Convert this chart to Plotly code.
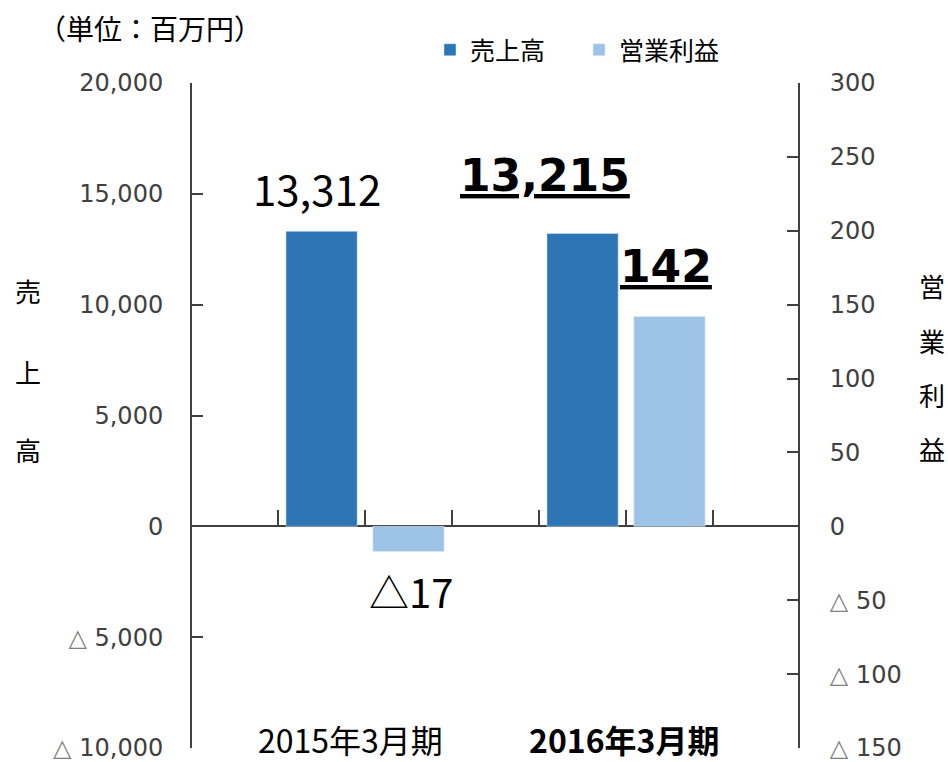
import plotly.graph_objects as go

# ---- data ----
categories = ["2015年3月期", "2016年3月期"]
sales = [13312, 13215]            # 売上高 (百万円)
op_profit = [-17, 142]            # 営業利益 (百万円)
sales_labels = ["13,312", "<b><u>13,215</u></b>"]
profit_labels = ["△17", "<b><u>142</u></b>"]

left_tickvals = [-10000, -5000, 0, 5000, 10000, 15000, 20000]
left_ticktext = ["<span style='color:#7f7f7f'>△</span> 10,000",
                 "<span style='color:#7f7f7f'>△</span> 5,000",
                 "0", "5,000", "10,000", "15,000", "20,000"]
right_tickvals = [-150, -100, -50, 0, 50, 100, 150, 200, 250, 300]
right_ticktext = ["<span style='color:#7f7f7f'>△</span> 150",
                  "<span style='color:#7f7f7f'>△</span> 100",
                  "<span style='color:#7f7f7f'>△</span> 50",
                  "0", "50", "100", "150", "200", "250", "300"]

unit_text = "（単位：百万円）"
left_title = "売上高"
right_title = "営業利益"

# ---- style ----
W, H = 948, 762
BLUE = "#2E75B6"
LIGHT = "#9DC3E6"
AX = "#404040"
CJK = "Noto Sans CJK JP"
NUM = "DejaVu Sans"

def px(x):
    return x / W

def py(y):
    return 1 - y / H

x_range = [-0.663, 1.659]
bar_w = 0.273
cat_index = list(range(len(categories)))
# category-boundary tick marks on the zero line (thirds of each category slot)
zero_ticks = [i + d for i in cat_index for d in (-1/3, 0, 1/3)]

fig = go.Figure()
fig.add_trace(go.Bar(name="売上高", x=categories, y=sales, marker_color=BLUE,
                     width=bar_w, offset=-0.303, yaxis="y", xaxis="x"))
fig.add_trace(go.Bar(name="営業利益", x=categories, y=op_profit, marker_color=LIGHT,
                     width=bar_w, offset=0.030, yaxis="y2", xaxis="x"))
# helper (draws nothing) so that the tick-mark axis on the zero line is rendered
fig.add_trace(go.Scatter(x=cat_index, y=sales, mode="none", xaxis="x2", yaxis="y",
                         showlegend=False, hoverinfo="skip"))

annotations = []
# unit
annotations.append(dict(text=unit_text, xref="paper", yref="paper", x=px(36), y=py(28),
                         xanchor="left", yanchor="middle", showarrow=False,
                         font=dict(family=CJK, size=28, color="#000")))
# data labels
annotations.append(dict(text=sales_labels[0], x=categories[0], y=sales[0], xref="x", yref="y",
                        xshift=-48, yshift=44, yanchor="middle", showarrow=False,
                        font=dict(family=CJK, size=42, color="#000")))
annotations.append(dict(text=sales_labels[1], x=categories[1], y=sales[1], xref="x", yref="y",
                        xshift=-81, yshift=58, yanchor="middle", showarrow=False,
                        font=dict(family=NUM, size=44, color="#000")))
annotations.append(dict(text=profit_labels[0], x=categories[0], y=op_profit[0], xref="x", yref="y2",
                        xshift=46, yshift=-40, yanchor="middle", showarrow=False,
                        font=dict(family=CJK, size=40, color="#000")))
annotations.append(dict(text=profit_labels[1], x=categories[1], y=op_profit[1], xref="x", yref="y2",
                        xshift=40, yshift=50, yanchor="middle", showarrow=False,
                        font=dict(family=NUM, size=44, color="#000")))
# category labels
annotations.append(dict(text=categories[0], x=categories[0], y=0, xref="x", yref="paper",
                        xshift=-15, yanchor="bottom", yshift=-2, showarrow=False,
                        font=dict(family=CJK, size=32, color="#000")))
annotations.append(dict(text="<b>" + categories[1] + "</b>", x=categories[1], y=0, xref="x",
                        yref="paper", xshift=-2, yanchor="bottom", yshift=-2, showarrow=False,
                        font=dict(family=CJK, size=32, color="#000")))
# axis titles (vertical, one character per line)
for ch, yc in zip(left_title, [290, 371, 449]):
    annotations.append(dict(text=ch, xref="paper", yref="paper", x=px(28), y=py(yc),
                            xanchor="center", yanchor="middle", showarrow=False,
                            font=dict(family=CJK, size=26, color="#000")))
for ch, yc in zip(right_title, [286, 340, 394, 448]):
    annotations.append(dict(text=ch, xref="paper", yref="paper", x=px(932), y=py(yc),
                            xanchor="center", yanchor="middle", showarrow=False,
                            font=dict(family=CJK, size=26, color="#000")))

zero_pos = py(527)
fig.update_layout(
    width=W, height=H, autosize=False,
    margin=dict(l=0, r=0, t=0, b=0, autoexpand=False),
    paper_bgcolor="white", plot_bgcolor="white",
    barmode="overlay",
    showlegend=True,
    legend=dict(orientation="h", x=px(430), y=py(50), xanchor="left", yanchor="middle",
                font=dict(family=CJK, size=25, color="#000"),
                entrywidth=104, entrywidthmode="pixels", bgcolor="rgba(0,0,0,0)"),
    xaxis=dict(domain=[px(192), px(798)], range=x_range, type="category", automargin=False,
               showticklabels=False, ticks="", showline=False, showgrid=False, zeroline=False),
    xaxis2=dict(overlaying="x", anchor="free", position=zero_pos, type="linear", range=x_range,
                tickmode="array", tickvals=zero_ticks, ticks="inside",
                ticklen=17, tickwidth=2, tickcolor=AX, showticklabels=False, automargin=False,
                showline=False, showgrid=False, zeroline=False),
    yaxis=dict(domain=[py(748), py(83)], range=[-10000, 20000], tickmode="array",
               tickvals=left_tickvals, ticktext=left_ticktext, ticks="inside", ticklen=11,
               tickwidth=2, tickcolor=AX, showline=True, linecolor=AX, linewidth=2,
               showgrid=False, zeroline=True, zerolinecolor=AX, zerolinewidth=2, automargin=False,
               ticklabeloverflow="allow", ticklabelstandoff=22,
               tickfont=dict(family=NUM, size=24, color=AX)),
    yaxis2=dict(overlaying="y", side="right", anchor="x", range=[-150, 300], tickmode="array",
                tickvals=right_tickvals, ticktext=right_ticktext, ticks="inside", ticklen=11,
                tickwidth=2, tickcolor=AX, showline=True, linecolor=AX, linewidth=2,
                showgrid=False, zeroline=False, ticklabelstandoff=25, automargin=False,
                ticklabeloverflow="allow", tickfont=dict(family=NUM, size=24, color=AX)),
    annotations=annotations,
)

fig.write_html("out.html")
